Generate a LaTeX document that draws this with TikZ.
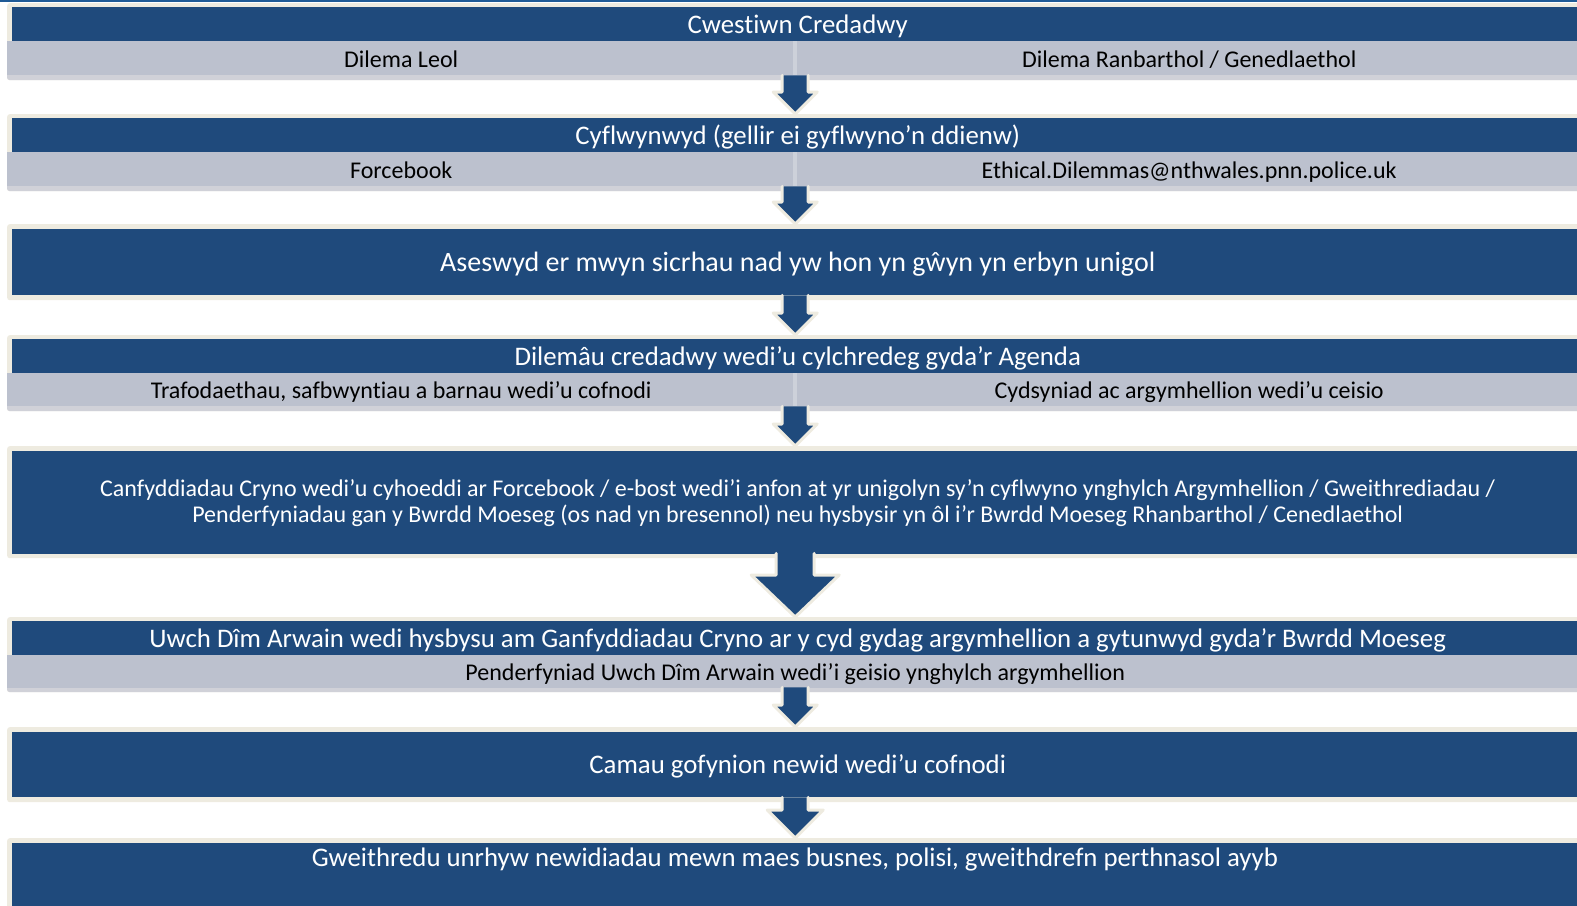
\documentclass[tikz,border=0pt]{standalone}
\usepackage{fontspec}
\setmainfont[Ligatures=NoCommon]{Carlito}
\usetikzlibrary{calc}
\definecolor{hdrblue}{HTML}{1F4A7C}
\definecolor{subgrey}{HTML}{BCC1CE}
\definecolor{edgegrey}{HTML}{D0D1D8}
\definecolor{cream}{HTML}{EEEBE0}
\definecolor{divgrey}{HTML}{CDD1DA}
\definecolor{topline}{HTML}{1F5A96}
\begin{document}
\begin{tikzpicture}[x=1pt, y=-1pt, line join=round,
    blockframe/.style={fill=cream, rounded corners=2.5pt, anchor=north west, inner sep=0pt, minimum width=1576pt},
    hdrband/.style={fill=hdrblue, text=white, anchor=north west, inner sep=0pt, minimum width=1571pt, text height=18.5pt, text depth=0pt, font=\fontsize{26.8}{30}\selectfont},
    subband/.style={fill=subgrey, text=black, anchor=north west, inner sep=0pt, minimum height=34pt, text height=18pt, text depth=0pt, font=\fontsize{24}{26}\selectfont},
    subedge/.style={fill=edgegrey, rounded corners=2.5pt},
    divline/.style={divgrey, line width=4pt},
    arrowedge/.style={draw=cream, line width=3pt, line cap=round}]
    \useasboundingbox (0,0) rectangle (1577,905);
    \clip (0,0) rectangle (1577,905);
    \fill[topline] (0,0) rectangle (1577,2);
    \node[blockframe, minimum height=77pt] (f1) at (7,3) {};
    \fill[subedge] (7,41) rectangle (1583,80);
    \node[hdrband, minimum height=34pt] (b1) at (12,7) {Cwestiwn Credadwy};
    \node[subband, minimum width=788pt] (s1a) at (7,41) {Dilema Leol};
    \node[subband, minimum width=788pt] (s1b) at (795,41) {Dilema Ranbarthol / Genedlaethol};
    \draw[divline] (s1a.north east) -- (s1a.south east);
    \node[blockframe, minimum height=77pt] (f2) at (7,114) {};
    \fill[subedge] (7,152) rectangle (1583,191);
    \node[hdrband, minimum height=34pt] (b2) at (12,118) {Cyflwynwyd (gellir ei gyflwyno’n ddienw)};
    \node[subband, minimum width=788pt] (s2a) at (7,152) {Forcebook};
    \node[subband, minimum width=788pt] (s2b) at (795,152) {Ethical.Dilemmas@nthwales.pnn.police.uk};
    \draw[divline] (s2a.north east) -- (s2a.south east);
    \node[blockframe, minimum height=76pt] (f3) at (7,224) {};
    \node[hdrband, minimum height=66pt, font=\fontsize{28}{32}\selectfont] (b3) at (12,229) {Aseswyd er mwyn sicrhau nad yw hon yn gŵyn yn erbyn unigol};
    \node[blockframe, minimum height=76pt] (f4) at (7,335) {};
    \fill[subedge] (7,373) rectangle (1583,411);
    \node[hdrband, minimum height=34pt] (b4) at (12,339) {Dilemâu credadwy wedi’u cylchredeg gyda’r Agenda};
    \node[subband, minimum width=788pt, minimum height=33pt] (s4a) at (7,373) {Trafodaethau, safbwyntiau a barnau wedi’u cofnodi};
    \node[subband, minimum width=788pt, minimum height=33pt] (s4b) at (795,373) {Cydsyniad ac argymhellion wedi’u ceisio};
    \draw[divline] (s4a.north east) -- (s4a.south east);
    \node[blockframe, minimum height=112pt] (f5) at (7,446) {};
    \node[hdrband, minimum height=103pt, align=center, text height=, text depth=, font=\fontsize{24}{26}\selectfont] (b5) at (12,451) {Canfyddiadau Cryno wedi’u cyhoeddi ar Forcebook / e-bost wedi’i anfon at yr unigolyn sy’n cyflwyno ynghylch Argymhellion / Gweithrediadau /\\Penderfyniadau gan y Bwrdd Moeseg (os nad yn bresennol) neu hysbysir yn ôl i’r Bwrdd Moeseg Rhanbarthol / Cenedlaethol};
    \node[blockframe, minimum height=75pt] (f6) at (7,617) {};
    \fill[subedge] (7,655) rectangle (1583,692);
    \node[hdrband, minimum height=34pt] (b6) at (12,621) {Uwch Dîm Arwain wedi hysbysu am Ganfyddiadau Cryno ar y cyd gydag argymhellion a gytunwyd gyda’r Bwrdd Moeseg};
    \node[subband, minimum width=1576pt, minimum height=33pt] (s6) at (7,655) {Penderfyniad Uwch Dîm Arwain wedi’i geisio ynghylch argymhellion};
    \node[blockframe, minimum height=75pt] (f7) at (7,727) {};
    \node[hdrband, minimum height=65pt] (b7) at (12,732) {Camau gofynion newid wedi’u cofnodi};
    \node[blockframe, minimum height=100pt] (f8) at (7,838) {};
    \node[hdrband, minimum height=100pt] (b8) at (12,843) {};
    \node[text=white, inner sep=0pt, text height=19pt, text depth=0pt, font=\fontsize{26.8}{30}\selectfont] (t8) at (795,857) {Gweithredu unrhyw newidiadau mewn maes busnes, polisi, gweithdrefn perthnasol ayyb};
    \foreach \a/\b/\s/\h/\l in {f1/f2/13pt/22pt/22pt, f2/f3/13pt/22pt/22pt, f3/f4/13pt/22pt/22pt, f4/f5/13pt/22pt/22pt, f5/f6/19pt/44pt/42pt, f6/f7/13pt/22pt/22pt, f7/f8/13pt/28pt/28pt}{
        \fill[hdrblue] let \p1=(\a.south), \p2=(\b.north) in (\x2-\s,\y1+5pt) -- (\x2-\s,\y2+\l) -- (\x2-\h,\y2+\l) -- (\x2,\y2) -- (\x2+\h,\y2+\l) -- (\x2+\s,\y2+\l) -- (\x2+\s,\y1+5pt) -- cycle;
        \draw[arrowedge] let \p1=(\a.south), \p2=(\b.north) in (\x2-\s,\y1+5pt) -- (\x2-\s,\y2+\l) -- (\x2-\h,\y2+\l) -- (\x2,\y2) -- (\x2+\h,\y2+\l) -- (\x2+\s,\y2+\l) -- (\x2+\s,\y1+5pt);
    }
\end{tikzpicture}
\end{document}
